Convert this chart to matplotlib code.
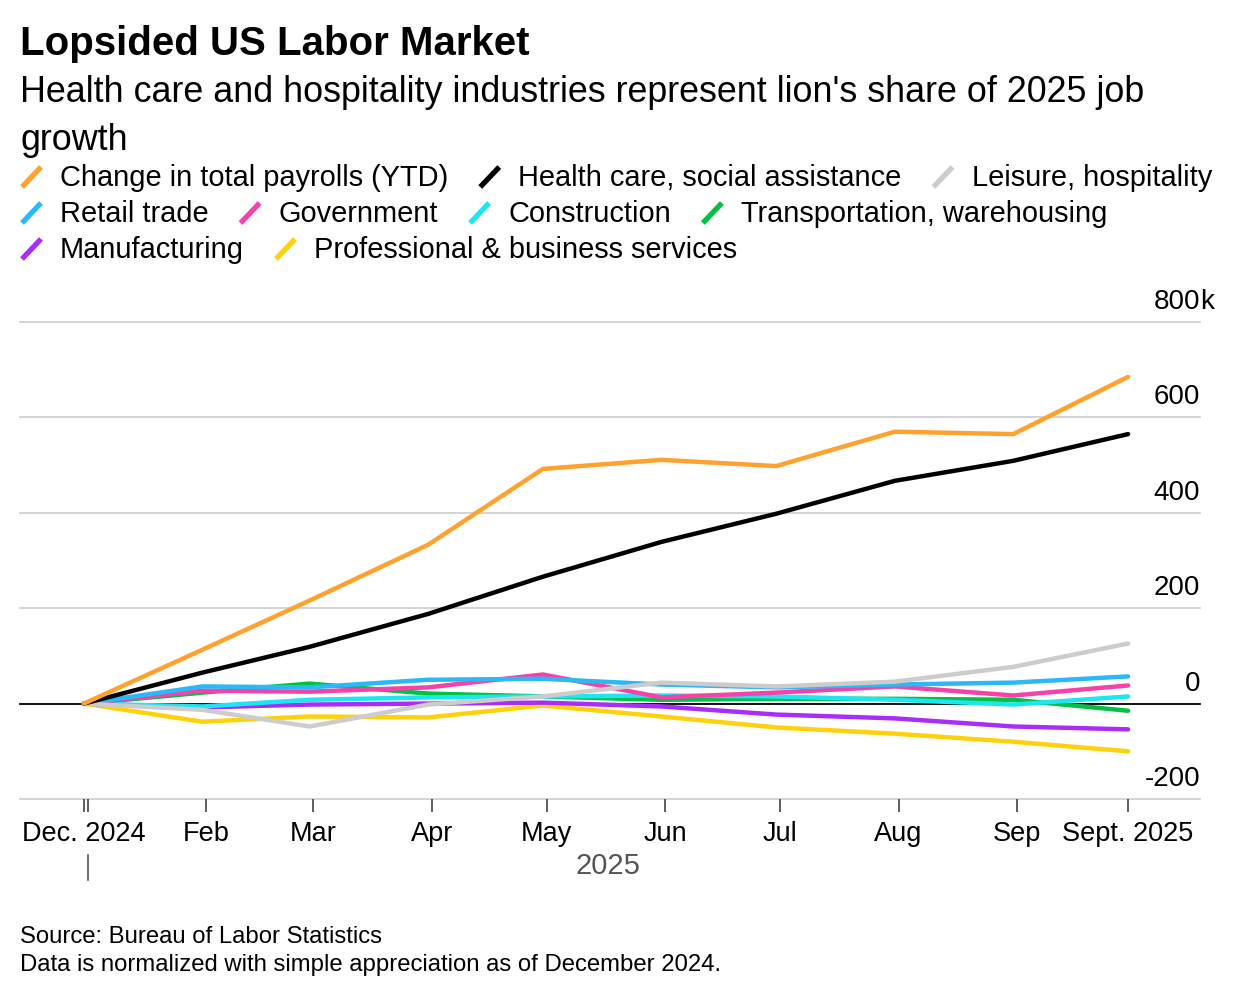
import pandas as pd
import matplotlib.pyplot as plt
from matplotlib.lines import Line2D
from matplotlib.transforms import blended_transform_factory, offset_copy

plt.rcParams['font.family'] = ['Liberation Sans', 'DejaVu Sans']

# Month-end observations, Dec 2024 .. Sep 2025 (thousands of jobs, change since Dec 2024)
months = pd.date_range('2024-12-31', periods=10, freq='ME')

total_payrolls = [0, 113, 216, 333, 492, 511, 498, 570, 565, 685]
health_care = [0, 65, 119, 188, 266, 339, 398, 467, 509, 565]
leisure = [0, -13, -48, -2, 15, 44, 36, 46, 77, 126]
retail = [0, 36, 34, 50, 52, 40, 34, 40, 44, 57]
government = [0, 27, 25, 34, 61, 13, 23, 36, 17, 38]
construction = [0, -6, 8, 13, 15, 17, 15, 8, -2, 15]
transportation = [0, 23, 42, 21, 15, 8, 10, 10, 8, -15]
manufacturing = [0, -8, -2, 0, 2, -6, -23, -31, -48, -54]
professional = [0, -38, -27, -29, -4, -27, -50, -63, -80, -100]

labels = ['Change in total payrolls (YTD)', 'Health care, social assistance',
          'Leisure, hospitality', 'Retail trade', 'Government', 'Construction',
          'Transportation, warehousing', 'Manufacturing', 'Professional & business services']
colors = ['#ffa12e', '#000000', '#cccccc', '#2bb8f6', '#f542a8', '#1de5f2',
          '#00c142', '#a92df7', '#ffd10a']
values = [total_payrolls, health_care, leisure, retail, government, construction,
          transportation, manufacturing, professional]

ytick_vals = [-200, 0, 200, 400, 600, 800]
xtick_dates = pd.to_datetime(['2024-12-31', '2025-02-01', '2025-03-01', '2025-04-01',
                              '2025-05-01', '2025-06-01', '2025-07-01', '2025-08-01',
                              '2025-09-01', '2025-09-30'])
xtick_labels = ['Dec. 2024', 'Feb', 'Mar', 'Apr', 'May', 'Jun', 'Jul', 'Aug', 'Sep', 'Sept. 2025']

W, H = 1236, 1000
fig = plt.figure(figsize=(W / 100, H / 100), dpi=100)
ax = fig.add_axes([20 / W, 1 - 799 / H, 1180 / W, 477 / H])

# lines, drawn so that the first series ends up on top
for vals, col in list(zip(values, colors))[::-1]:
    ax.plot(months, vals, color=col, lw=3.2, solid_capstyle='round',
            solid_joinstyle='round', zorder=3)

ax.set_ylim(-200, 800)
ax.set_xlim(months[0] - pd.Timedelta(days=16.7), months[-1] + pd.Timedelta(days=18.8))
for s in ax.spines.values():
    s.set_visible(False)

for v in ytick_vals:
    if v == 0:
        ax.axhline(v, color='black', lw=1.3, zorder=2, clip_on=False)
    else:
        ax.axhline(v, color='#cccccc', lw=1.2, zorder=1, clip_on=False)

ax.set_yticks([])
ytrans = offset_copy(blended_transform_factory(ax.transAxes, ax.transData),
                     fig=fig, y=7, units='dots')
for v in ytick_vals:
    ax.text(1.0, v, f'{v}', transform=ytrans, ha='right', va='bottom', fontsize=20)
    if v == ytick_vals[-1]:
        ax.text(1.0, v, 'k', transform=ytrans, ha='left', va='bottom', fontsize=20)

ax.set_xticks(xtick_dates)
ax.set_xticklabels(xtick_labels, fontsize=19.5)
ax.set_xticks([pd.Timestamp('2025-01-01')], minor=True)
ax.tick_params(axis='x', which='both', direction='out', length=9, width=1.1,
               color='#333333', pad=7)

# year marker below the tick labels
sep_trans = blended_transform_factory(ax.transData, fig.transFigure)
ax.add_line(Line2D([pd.Timestamp('2025-01-01')] * 2, [1 - 855 / H, 1 - 880 / H],
                   transform=sep_trans, color='#555555', lw=1.2, clip_on=False))
mid_2025 = pd.Timestamp('2025-01-01') + (months[-1] - pd.Timestamp('2025-01-01')) / 2
ax.text(mid_2025, 1 - 866 / H, '2025', transform=sep_trans, ha='center', va='center',
        fontsize=21, color='#555555')

# titles
fig.text(20 / W, 1 - 44 / H, 'Lopsided US Labor Market', fontsize=29,
         fontweight='bold', va='center')
fig.text(20 / W, 1 - 93 / H,
         "Health care and hospitality industries represent lion's share of 2025 job",
         fontsize=25.8, va='center')
fig.text(20 / W, 1 - 140 / H, 'growth', fontsize=25.8, va='center')

# legend laid out as flowing rows
renderer = fig.canvas.get_renderer()
rows = [[0, 1, 2], [3, 4, 5, 6], [7, 8]]
row_y = [178, 214, 250]
for r, idxs in enumerate(rows):
    x = 22
    yc = row_y[r]
    for i in idxs:
        fig.add_artist(Line2D([x / W, (x + 19) / W], [1 - (yc + 9) / H, 1 - (yc - 11) / H],
                              color=colors[i], lw=3.8, solid_capstyle='butt'))
        t = fig.text((x + 38) / W, 1 - yc / H, labels[i], fontsize=20.9, va='center')
        w = t.get_window_extent(renderer).width
        x += 38 + w + 32

fig.text(20 / W, 1 - 937 / H, 'Source: Bureau of Labor Statistics', fontsize=17.2, va='center')
fig.text(20 / W, 1 - 965 / H, 'Data is normalized with simple appreciation as of December 2024.',
         fontsize=17.2, va='center')

fig.savefig('out.png', dpi=100)
